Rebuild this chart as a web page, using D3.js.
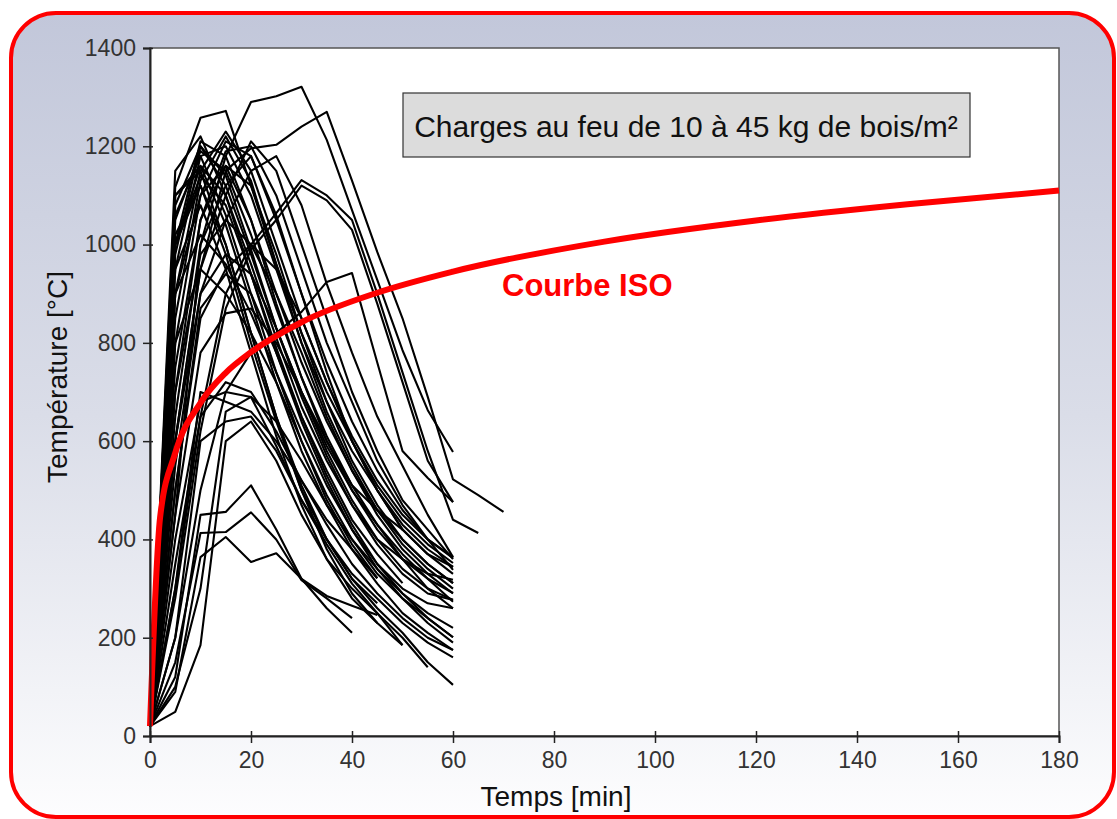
<!DOCTYPE html>
<html>
<head>
<meta charset="utf-8">
<title>Courbes de feu</title>
<script src="https://cdnjs.cloudflare.com/ajax/libs/d3/7.8.5/d3.min.js"></script>
<style>
  body { margin: 0; background: white; }
  text { font-family: "Liberation Sans", Arial, sans-serif; }
</style>
</head>
<body>
<div id="chart"></div>
<script>
// grille des temps (min) sur laquelle sont relevés les essais
var grille = [0, 5, 10, 15, 20, 25, 30, 35, 40, 45, 50, 55, 60, 65, 70];

// températures relevées (°C), un tableau par essai, arrêté à la fin de l'essai
var essais = [
  [20, 450, 1000, 1180, 1290, 1302, 1321, 1213, 1070, 928, 785, 663, 578],
  [20, 600, 950, 1150, 1196, 1203, 1240, 1270, 1130, 985, 850, 690, 522, 490, 456],
  [20, 1117, 1258, 1272, 1120, 960, 820, 700, 600, 510, 440, 390, 352],
  [20, 300, 650, 900, 1000, 1064, 1131, 1100, 1050, 900, 740, 580, 440, 413],
  [20, 280, 620, 870, 990, 1050, 1120, 1090, 1030, 880, 720, 560, 476],
  [20, 200, 500, 700, 780, 820, 863, 924, 942, 760, 580, 525, 476],
  [20, 1000, 1210, 1180, 1050, 900, 760, 640, 540, 460, 400, 350, 311],
  [20, 1080, 1200, 1120, 980, 830, 700, 590, 500, 430, 370, 320, 273],
  [20, 900, 1150, 1230, 1150, 1000, 850, 720, 610, 520, 450, 400, 362],
  [20, 950, 1180, 1200, 1100, 950, 800, 680, 580, 500, 430, 380, 344],
  [20, 1050, 1190, 1150, 1020, 870, 730, 610, 510, 430, 360, 300, 260],
  [20, 800, 1100, 1210, 1180, 1050, 900, 760, 640, 540, 460, 400, 364],
  [20, 700, 1050, 1190, 1200, 1100, 950, 800, 680, 560, 470, 400, 338],
  [20, 1000, 1140, 1080, 940, 790, 650, 530, 430, 350, 290, 240, 201],
  [20, 1100, 1160, 1040, 880, 720, 580, 470, 380, 310, 250, 210, 175],
  [20, 1020, 1120, 1000, 820, 650, 510, 400, 320, 260, 210, 150, 104],
  [20, 900, 1100, 1160, 1050, 880, 730, 600, 500, 420, 360, 320, 291],
  [20, 1150, 1220, 1100, 940, 780, 640, 520, 420, 340, 280, 230, 190],
  [20, 850, 1130, 1220, 1130, 960, 800, 660, 550, 460, 390, 340, 300],
  [20, 980, 1200, 1140, 990, 830, 690, 570, 470, 390, 330, 290, 277],
  [20, 1000, 1160, 1100, 960, 810, 670, 560, 470, 400, 360, 330, 318],
  [20, 750, 1050, 1160, 1120, 980, 820, 680, 560, 470, 400, 350, 311],
  [20, 1060, 1180, 1060, 900, 740, 600, 480, 390, 321],
  [20, 1000, 1120, 980, 800, 640, 500, 400, 320, 270],
  [20, 950, 1080, 950, 780, 610, 470, 360, 280, 230],
  [20, 1100, 1150, 1000, 820, 650, 500, 380, 290, 230, 185],
  [20, 650, 1000, 1120, 1180, 1060, 900, 740, 600, 500, 420, 370, 330],
  [20, 600, 950, 1100, 1210, 1150, 1000, 850, 700, 580, 480, 420, 360],
  [20, 550, 900, 1050, 1150, 1180, 1080, 920, 780, 650, 550, 450, 364],
  [20, 700, 980, 1050, 1000, 900, 780, 650, 540, 450, 380, 330, 290],
  [20, 900, 1020, 960, 860, 740, 620, 510, 420, 350, 300, 270, 260],
  [20, 800, 950, 900, 820, 720, 600, 490, 400, 330, 280, 240, 201],
  [20, 600, 900, 980, 940, 830, 700, 580, 480, 400, 340, 300, 277],
  [20, 500, 850, 950, 1000, 950, 850, 720, 600, 500, 420, 370, 344],
  [20, 300, 700, 680, 660, 600, 520, 440, 380, 321],
  [20, 500, 870, 940, 900, 780, 650, 540, 440, 370, 311],
  [20, 450, 780, 860, 870, 800, 700, 600, 510, 460, 420],
  [20, 350, 650, 720, 700, 620, 520, 430, 350, 290, 240, 200, 175],
  [20, 400, 680, 700, 690, 640, 560, 470, 400, 340, 290, 250, 220],
  [20, 120, 450, 456, 510, 420, 320, 260, 210],
  [20, 90, 364, 405, 354, 372, 320, 285, 265, 246],
  [20, 150, 413, 415, 455, 400, 317, 280, 240],
  [20, 49, 185, 600, 640, 560, 450, 360, 300, 250, 185],
  [20, 100, 300, 660, 690, 590, 480, 390, 310, 250, 200, 140],
  [20, 200, 600, 640, 650, 580, 480, 400, 330, 280, 230, 190, 160]
];

// courbe ISO 834 relevée
var isoTemps = [0, 2, 5, 10, 15, 20, 30, 45, 60, 90, 120, 150, 180];
var isoValeurs = [20, 445, 576, 678, 739, 781, 842, 902, 945, 1006, 1049, 1082, 1110];

var ticksX = [0, 20, 40, 60, 80, 100, 120, 140, 160, 180];
var ticksY = [0, 200, 400, 600, 800, 1000, 1200, 1400];

var W = 1117, H = 819;
var m = {left: 150, right: 1059, top: 48, bottom: 736};

var svg = d3.select("#chart").append("svg")
    .attr("width", W)
    .attr("height", H);

var grad = svg.append("defs").append("linearGradient")
    .attr("id", "fond")
    .attr("x1", 0).attr("y1", 0).attr("x2", 0).attr("y2", 1);
grad.append("stop").attr("offset", "0").attr("stop-color", "#c2c7da");
grad.append("stop").attr("offset", "0.5").attr("stop-color", "#dadde8");
grad.append("stop").attr("offset", "1").attr("stop-color", "#fdfdfe");

svg.append("rect")
    .attr("x", 11).attr("y", 13)
    .attr("width", 1103).attr("height", 804)
    .attr("rx", 45).attr("ry", 45)
    .attr("fill", "url(#fond)")
    .attr("stroke", "#ff0000")
    .attr("stroke-width", 4);

var x = d3.scaleLinear().domain([0, 180]).range([m.left, m.right]);
var y = d3.scaleLinear().domain([0, 1400]).range([m.bottom, m.top]);

svg.append("rect")
    .attr("x", m.left).attr("y", m.top)
    .attr("width", m.right - m.left).attr("height", m.bottom - m.top)
    .attr("fill", "white")
    .attr("stroke", "#555")
    .attr("stroke-width", 1.5);

var line = d3.line()
    .x(function(d){ return x(d[0]); })
    .y(function(d){ return y(d[1]); });

svg.append("g").selectAll("path")
    .data(essais)
    .enter().append("path")
    .attr("d", function(e){ return line(e.map(function(v, i){ return [grille[i], v]; })); })
    .attr("fill", "none")
    .attr("stroke", "#000")
    .attr("stroke-width", 2.1)
    .attr("stroke-linejoin", "round");

var iso = isoTemps.map(function(t, i){ return [t, isoValeurs[i]]; });
svg.append("path")
    .attr("d", line.curve(d3.curveMonotoneX)(iso))
    .attr("fill", "none")
    .attr("stroke", "#ff0000")
    .attr("stroke-width", 6);

// axes (ticks qui traversent l'axe)
var fmt = d3.format("d");
var ax = svg.append("g").attr("transform", "translate(0," + m.bottom + ")")
    .call(d3.axisBottom(x).tickValues(ticksX).tickFormat(fmt).tickSize(7).tickPadding(9));
svg.append("g").attr("transform", "translate(0," + m.bottom + ")")
    .call(d3.axisBottom(x).tickValues(ticksX).tickSize(-5).tickFormat(""))
    .select(".domain").remove();
var ay = svg.append("g").attr("transform", "translate(" + m.left + ",0)")
    .call(d3.axisLeft(y).tickValues(ticksY).tickFormat(fmt).tickSize(7).tickPadding(7));
svg.append("g").attr("transform", "translate(" + m.left + ",0)")
    .call(d3.axisLeft(y).tickValues(ticksY).tickSize(-3).tickFormat(""))
    .select(".domain").remove();

svg.selectAll(".domain").attr("stroke", "#222").attr("stroke-width", 2);
svg.selectAll(".tick line").attr("stroke", "#222").attr("stroke-width", 1.5);
[ax, ay].forEach(function(g){
  g.selectAll("text").attr("font-size", 23).attr("fill", "#333")
    .attr("font-family", "Liberation Sans, Arial, sans-serif");
});

svg.append("text")
    .attr("x", 556).attr("y", 806)
    .attr("text-anchor", "middle")
    .attr("font-size", 28).attr("fill", "#111")
    .text("Temps [min]");

svg.append("text")
    .attr("transform", "translate(67,377) rotate(-90)")
    .attr("text-anchor", "middle")
    .attr("font-size", 28).attr("fill", "#111")
    .text("Température [°C]");

svg.append("rect")
    .attr("x", 403).attr("y", 93)
    .attr("width", 567).attr("height", 64)
    .attr("fill", "#dcdcdc")
    .attr("stroke", "#333")
    .attr("stroke-width", 1.2);
svg.append("text")
    .attr("x", 686).attr("y", 137)
    .attr("text-anchor", "middle")
    .attr("font-size", 30).attr("fill", "#111")
    .text("Charges au feu de 10 à 45 kg de bois/m²");

svg.append("text")
    .attr("x", 502).attr("y", 296)
    .attr("font-size", 31).attr("font-weight", "bold").attr("fill", "#ff0000")
    .text("Courbe ISO");
</script>
</body>
</html>
